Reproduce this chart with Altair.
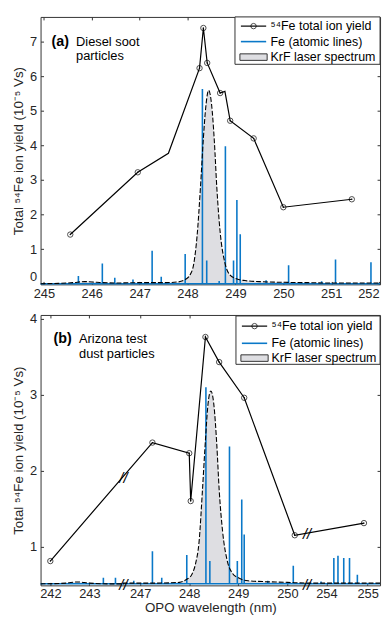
import altair as alt
import pandas as pd

FONT = "Liberation Sans"
BLUE = "#0a78c8"
GRAY = "#dedee2"
INK = "#262626"

# ---------------- Panel (a): Diesel soot particles ----------------
a_ion_wl = [245.55, 246.96, 247.60, 248.25, 248.33, 248.41, 248.68, 248.78, 248.89, 249.38, 250.00, 251.43]
a_ion_val = [1.42, 3.22, 3.77, 6.23, 7.39, 6.38, 5.51, 5.56, 4.71, 4.20, 2.21, 2.44]
a_ion_mark = [1, 1, 0, 1, 1, 1, 1, 0, 1, 1, 1, 1]

a_spec_wl = [244.93, 245.3, 245.6, 245.85, 246.1, 246.5, 247.0, 247.5, 247.8, 247.95, 248.05,
             248.13, 248.2, 248.27, 248.33, 248.38, 248.44, 248.5, 248.56, 248.61, 248.68,
             248.78, 248.88, 249.0, 249.2, 249.5, 250.0, 250.5, 251.0, 251.5, 252.02]
a_spec_val = [0.0, 0.01, 0.03, 0.06, 0.04, 0.02, 0.03, 0.03, 0.05, 0.12, 0.25,
              0.58, 1.4, 2.8, 4.2, 5.1, 5.59, 5.2, 4.1, 2.8, 1.5,
              0.6, 0.26, 0.15, 0.09, 0.06, 0.04, 0.03, 0.02, 0.02, 0.02]

a_fe_wl = [245.72, 246.22, 246.48, 246.86, 247.26, 247.45, 247.95, 248.31, 248.40, 248.66,
           248.79, 248.96, 249.03, 249.10, 249.64, 250.11, 250.80, 251.09, 251.83]
a_fe_val = [0.22, 0.58, 0.17, 0.12, 0.95, 0.20, 0.86, 5.63, 0.67, 0.08,
            3.97, 0.67, 2.42, 1.43, 0.10, 0.53, 0.07, 0.70, 0.62]

a_xticks = [245, 246, 247, 248, 249, 250, 251, 252]
a_yticks = [0, 1, 2, 3, 4, 5, 6, 7]

# ---------------- Panel (b): Arizona test dust particles ----------------
b_ion_wl = [242.0, 247.25, 248.0, 248.03, 248.33, 248.61, 249.12, 250.15, 254.91]
b_ion_val = [0.81, 2.37, 2.23, 1.60, 3.76, 3.43, 2.96, 1.15, 1.31]
b_ion_mark = [1, 1, 1, 1, 1, 1, 1, 1, 1]

b_spec_wl = [241.75, 242.4, 242.7, 243.0, 243.5, 243.875, 246.66, 247.3, 247.8, 247.95, 248.05,
             248.13, 248.2, 248.27, 248.33, 248.38, 248.44, 248.5, 248.56, 248.61, 248.68,
             248.78, 248.88, 249.0, 249.2, 249.5, 250.0, 250.4, 253.53, 254.5, 255.3]
b_spec_val = [0.51, 0.52, 0.535, 0.52, 0.51, 0.51, 0.52, 0.52, 0.53, 0.57, 0.63,
              0.78, 1.06, 1.75, 2.40, 2.86, 3.05, 2.88, 2.36, 1.75, 1.20,
              0.80, 0.65, 0.59, 0.55, 0.54, 0.53, 0.52, 0.52, 0.52, 0.52]

b_fe_wl = [243.36, 243.67, 246.87, 247.25, 247.44, 247.95, 248.34, 248.42, 248.82, 248.98,
           249.07, 249.12, 249.60, 250.12, 253.87, 254.18, 254.28, 254.42, 254.56, 254.75, 254.95]
b_fe_val = [0.59, 0.59, 0.55, 0.94, 0.59, 0.89, 3.10, 0.81, 2.32, 0.81,
            1.62, 1.16, 0.55, 0.75, 0.54, 0.85, 0.88, 0.85, 0.85, 0.63, 0.52]

b_xticks = [242, 243, 247, 248, 249, 250, 254, 255]
b_yticks = [1, 2, 3, 4]

# broken x axis of panel (b): wavelength breakpoints and their pixel positions
b_break_wl = [241.75, 243.875, 246.66, 250.4, 253.53, 255.3]
b_break_px = [0, 84, 84, 270, 270, 344]

# break symbols ("//") drawn on the axis and on the yield curve
b_mark_wl = [245.0, 245.0, 252.0, 252.0]
b_mark_val = [1.90, 0.49, 1.16, 0.49]

Y_TITLE = "Total  \u2075\u2074Fe ion yield (10\u207b\u2075 Vs)"
LEG1 = "\u2075\u2074Fe total ion yield"
LEG2 = "Fe (atomic lines)"
LEG3 = "KrF laser spectrum"

W = 344


def one(**kw):
    return alt.Chart(pd.DataFrame({"k": [0], **{k: [v] for k, v in kw.items()}}))


def panel(ion_wl, ion_val, ion_mark, spec_wl, spec_val, fe_wl, fe_val, base,
          xscale, yscale, xticks, yticks, width, height, xtitle,
          leg, labels, breaks=None, flush=False):
    ion = pd.DataFrame({"wl": ion_wl, "val": ion_val, "m": ion_mark})
    spec = pd.DataFrame({"wl": spec_wl, "val": spec_val})
    fe = pd.DataFrame({"wl": fe_wl, "val": fe_val})

    xkw = dict(values=xticks, format="d", orient="bottom", offset=-3, tickSize=3,
               domain=False, labelPadding=3 if xtitle is None else 2,
               labelOverlap=False)
    if xtitle is None:
        xkw["title"] = None
    else:
        xkw["title"] = xtitle
        xkw["titlePadding"] = 0
    xkw["labelFlush"] = 2 if flush else False
    xa = alt.Axis(**xkw)
    ykw = dict(values=yticks, format="d", orient="left", offset=-3, tickSize=3,
               domain=False, labelPadding=4, title=Y_TITLE, titlePadding=4)
    ykw["labelFlush"] = 2 if flush else False
    ya = alt.Axis(**ykw)
    xt = alt.Axis(values=xticks, orient="top", offset=-3, tickSize=3, domain=False,
                  labels=False, title=None)
    yr = alt.Axis(values=yticks, orient="right", offset=-3, tickSize=3, domain=False,
                  labels=False, title=None)

    X = lambda ax=None: alt.X("wl:Q", scale=xscale, axis=ax)
    Y = lambda ax=None: alt.Y("val:Q", scale=yscale, axis=ax)

    layers = []
    layers.append(alt.Chart(spec).mark_area(color=GRAY, interpolate="monotone", clip=True)
                  .encode(x=X(xa), y=Y(ya), y2=alt.datum(base)))
    layers.append(alt.Chart(spec).mark_point(opacity=0)
                  .encode(x=X(xt), y=Y(yr)))
    layers.append(one(b=base).mark_rule(color=BLUE, strokeWidth=1.5)
                  .encode(y=alt.Y("b:Q", scale=yscale, axis=None),
                          x=alt.value(0), x2=alt.value(width)))
    layers.append(alt.Chart(fe).mark_rule(color=BLUE, strokeWidth=1.6, clip=True)
                  .encode(x=X(), y=Y(), y2=alt.datum(base)))
    layers.append(alt.Chart(spec).mark_line(color="black", strokeWidth=1.1, strokeDash=[5, 2],
                                            interpolate="monotone", clip=True)
                  .encode(x=X(), y=Y()))
    layers.append(alt.Chart(ion).mark_line(color="black", strokeWidth=1.2)
                  .encode(x=X(), y=Y()))
    layers.append(alt.Chart(ion).transform_filter("datum.m == 1")
                  .mark_point(shape="circle", filled=False, color="black", size=30, strokeWidth=1)
                  .encode(x=X(), y=Y()))
    layers.append(alt.Chart(ion).transform_filter("datum.m == 1")
                  .mark_point(shape="circle", filled=True, color="black", size=2, opacity=1)
                  .encode(x=X(), y=Y()))
    if breaks is not None:
        bdf = pd.DataFrame({"wl": breaks[0], "val": breaks[1], "t": ["//"] * len(breaks[0])})
        layers.append(alt.Chart(bdf).mark_text(font=FONT, fontSize=15, color="black",
                                               fontStyle="italic", baseline="middle", align="center")
                      .encode(x=X(), y=Y(), text="t:N"))

    # panel label
    (lx, ly, bold, l1, l2, lx2, ly2) = labels
    layers.append(one(t=bold).mark_text(font=FONT, fontSize=14.5, fontWeight="bold",
                                        align="left", baseline="middle", color="black")
                  .encode(text="t:N", x=alt.value(lx), y=alt.value(ly)))
    layers.append(one(t=l1).mark_text(font=FONT, fontSize=13, align="left",
                                      baseline="middle", color="black")
                  .encode(text="t:N", x=alt.value(lx2), y=alt.value(ly)))
    layers.append(one(t=l2).mark_text(font=FONT, fontSize=13, align="left",
                                      baseline="middle", color="black")
                  .encode(text="t:N", x=alt.value(lx2), y=alt.value(ly2)))

    # legend box
    (bw, by0, by1, r1, r2, r3) = leg
    bx0 = width - bw
    sx0, sx1, tx = bx0 + 6, bx0 + 31.6, bx0 + 36
    layers.append(one().mark_rect(fill="white", stroke="#333", strokeWidth=1)
                  .encode(x=alt.value(bx0), x2=alt.value(width), y=alt.value(by0), y2=alt.value(by1)))
    layers.append(one().mark_rule(color="black", strokeWidth=1.2)
                  .encode(x=alt.value(sx0), x2=alt.value(sx1), y=alt.value(r1)))
    layers.append(one().mark_point(shape="circle", filled=False, color="black", size=30, strokeWidth=1)
                  .encode(x=alt.value((sx0 + sx1) / 2), y=alt.value(r1)))
    layers.append(one().mark_rule(color=BLUE, strokeWidth=1.6)
                  .encode(x=alt.value(sx0), x2=alt.value(sx1), y=alt.value(r2)))
    layers.append(one().mark_rect(fill=GRAY, stroke="#333", strokeWidth=1)
                  .encode(x=alt.value(sx0 - 1), x2=alt.value(sx1 + 1),
                          y=alt.value(r3 - 3.3), y2=alt.value(r3 + 3.3)))
    for txt, ry in [(LEG1, r1), (LEG2, r2), (LEG3, r3)]:
        layers.append(one(t=txt).mark_text(font=FONT, fontSize=12.6, align="left",
                                           baseline="middle", color="black")
                      .encode(text="t:N", x=alt.value(tx), y=alt.value(ry)))

    return alt.layer(*layers).resolve_axis(x="independent", y="independent").properties(
        width=width, height=height)


a_xscale = alt.Scale(domain=[244.93, 252.02], nice=False, zero=False)
a_yscale = alt.Scale(domain=[-0.02, 7.71], nice=False, zero=False)
b_xscale = alt.Scale(domain=b_break_wl, range=b_break_px, nice=False, zero=False)
b_yscale = alt.Scale(domain=[0.49, 4.05], nice=False, zero=False)

pa = panel(a_ion_wl, a_ion_val, a_ion_mark, a_spec_wl, a_spec_val, a_fe_wl, a_fe_val, 0.0,
           a_xscale, a_yscale, a_xticks, a_yticks, W, 271, None,
           (147, 0, 48, 9.3, 25, 40.7),
           (11, 25, "(a)", "Diesel soot", "particles", 36, 40), flush=True)
pb = panel(b_ion_wl, b_ion_val, b_ion_mark, b_spec_wl, b_spec_val, b_fe_wl, b_fe_val, 0.51,
           b_xscale, b_yscale, b_xticks, b_yticks, W, 274, "OPO wavelength (nm)",
           (146, 1, 50, 11.3, 28.7, 43.7),
           (13, 24, "(b)", "Arizona test", "dust particles", 39, 40),
           breaks=(b_mark_wl, b_mark_val))

chart = alt.vconcat(pa, pb, spacing=11).properties(
    padding={"left": 3, "top": 4, "right": 0, "bottom": 0}
).configure_axis(
    labelFont=FONT, titleFont=FONT, labelFontSize=13, titleFontSize=13.5,
    labelColor=INK, titleColor=INK, tickColor="#333", grid=False, titleFontWeight="normal"
).configure_view(stroke="#333", strokeWidth=1)

chart.save("out.html", embed_options={"renderer": "svg", "actions": False})
